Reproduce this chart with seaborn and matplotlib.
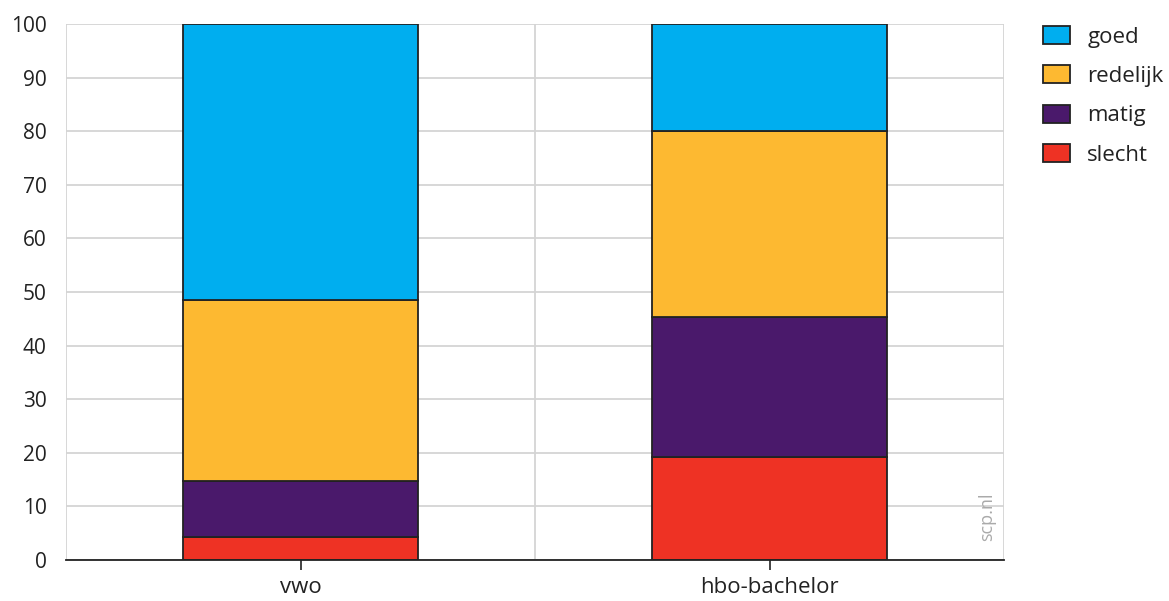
import matplotlib
matplotlib.use("Agg")
import matplotlib.pyplot as plt
import seaborn as sns
import pandas as pd
import numpy as np
from matplotlib.patches import Patch

categories = ["vwo", "hbo-bachelor"]
series = ["goed", "redelijk", "matig", "slecht"]
slecht = [4.2, 19.3]
matig = [10.5, 26.0]
redelijk = [33.9, 34.8]
goed = [51.4, 19.9]
colors = {"goed": "#00AEEF", "redelijk": "#FDB931", "matig": "#4A196B", "slecht": "#EE3224"}

sns.set_theme(style="white")
plt.rcParams['font.family'] = ['Open Sans', 'DejaVu Sans']

fig = plt.figure(figsize=(11.69, 6.01), dpi=100)
ax = fig.add_axes([66/1169, 1-560/601, (1004-66)/1169, (560-24)/601])

vals = {"slecht": np.array(slecht), "matig": np.array(matig),
        "redelijk": np.array(redelijk), "goed": np.array(goed)}
order_bottom_up = ["slecht", "matig", "redelijk", "goed"]
bottom = np.zeros(len(categories))
for s in order_bottom_up:
    df = pd.DataFrame({"cat": categories, "val": vals[s]})
    sns.barplot(data=df, x="cat", y="val", color=colors[s], width=0.5,
                bottom=bottom, edgecolor="#222222", linewidth=1.3,
                saturation=1, ax=ax, zorder=3)
    bottom = bottom + vals[s]

ax.set_xlim(-0.5, 1.5)
ax.set_ylim(0, 100)
ax.set_yticks(np.arange(0, 101, 10))
ax.set_xlabel("")
ax.set_ylabel("")
ax.grid(axis="y", color="#d4d4d4", linewidth=1.3, zorder=0)
for xv in [-0.5, 0.5, 1.5]:
    ax.axvline(xv, color="#d4d4d4", linewidth=1.3, zorder=0)
for sp in ["left", "right", "top"]:
    ax.spines[sp].set_visible(False)
ax.spines["bottom"].set_color("#222222")
ax.spines["bottom"].set_linewidth(1.3)
ax.spines["bottom"].set_zorder(5)
ax.tick_params(axis="x", bottom=True, length=7, width=1.2, color="#222222",
               labelsize=16, labelcolor="#222222", pad=5)
ax.tick_params(axis="y", left=False, length=0, labelsize=15, labelcolor="#222222", pad=14)

handles = [Patch(facecolor=colors[s], edgecolor="#222222", linewidth=1.3, label=s) for s in series]
fig.legend(handles=handles, loc="upper left", bbox_to_anchor=(1023/1169, 1-6/601),
           frameon=False, fontsize=16, handlelength=1.22, handleheight=0.86,
           labelspacing=0.8, handletextpad=0.77, labelcolor="#222222")

ax.text(0.982, 0.035, "scp.nl", transform=ax.transAxes, rotation=90,
        color="#aaaaaa", fontsize=13, ha="center", va="bottom")

fig.savefig("out.png", dpi=100)
